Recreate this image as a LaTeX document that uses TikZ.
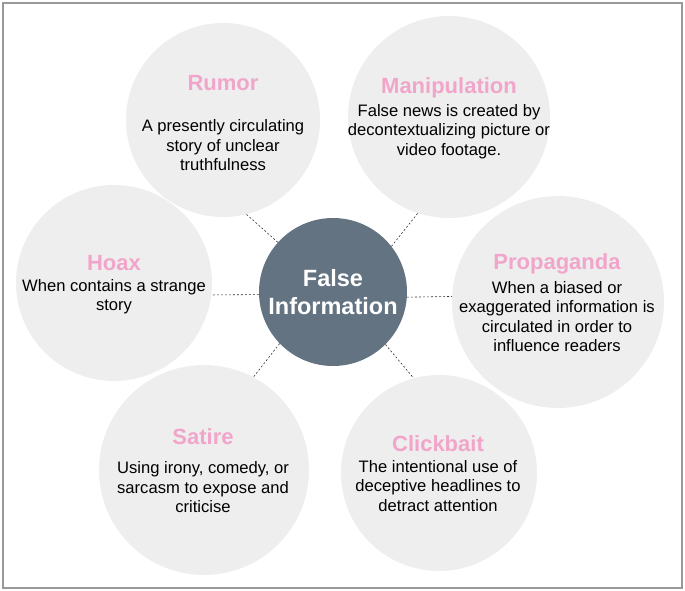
\documentclass[tikz,border=0pt]{standalone}
\usepackage{fontspec}
\setmainfont{Liberation Sans}
\definecolor{bubble}{HTML}{EEEEEE}
\definecolor{slate}{HTML}{637381}
\definecolor{rose}{HTML}{F2A5CA}

\begin{document}
\begin{tikzpicture}[x=1pt, y=-1pt]
        \tikzset{bubbles/.style={circle, fill=bubble, inner sep=0pt},
                 heads/.style={text=rose, font=\bfseries\fontsize{22}{24}\selectfont},
                 notes/.style={align=center, font=\fontsize{16.6}{19.5}\selectfont},
                 links/.style={draw=black!80, dash pattern=on 2pt off 2pt, line width=0.6pt}}
        \useasboundingbox (0,0) rectangle (685,591);
        \draw [black!40, line width=1.2pt] (3,3) rectangle (682,588);
        % outer circles
        \node [bubbles, minimum size=194pt] (rumor) at (223,120){};
        \node [bubbles, minimum size=202pt] (manip) at (449,117){};
        \node [bubbles, minimum size=196pt] (hoax)  at (114,283){};
        \node [bubbles, minimum size=212pt] (prop)  at (558,302){};
        \node [bubbles, minimum size=210pt] (satire) at (204,470){};
        \node [bubbles, minimum size=196pt] (click) at (439,473){};
        \node [circle, fill=slate, inner sep=0pt, minimum size=148pt] (false) at (333,292){};
        % texts
        \node [text=white, align=center, font=\bfseries\fontsize{23.5}{28}\selectfont] (falsetxt) at (333,292){False\\Information};
        \node [heads] (rumorhead) at (223,83){Rumor};
        \node [notes] (rumortxt)  at (223,145.5){A presently circulating\\story of unclear\\truthfulness};
        \node [heads] (maniphead) at (449,88){Manipulation};
        \node [notes] (maniptxt)  at (449,131.5){False news is created by\\decontextualizing picture or\\video footage.};
        \node [heads] (hoaxhead) at (114,263){Hoax};
        \node [notes] (hoaxtxt)  at (114,296.5){When contains a strange\\story};
        \node [heads] (prophead) at (557,264){Propaganda};
        \node [notes] (proptxt)  at (557,316.5){When a biased or\\exaggerated information is\\circulated in order to\\influence readers};
        \node [heads] (satirehead) at (203,437){Satire};
        \node [notes] (satiretxt)  at (203,487.5){Using irony, comedy, or\\sarcasm to expose and\\criticise};
        \node [heads] (clickhead) at (438,444){Clickbait};
        \node [notes] (clicktxt)  at (438,486){The intentional use of\\deceptive headlines to\\detract attention};
        % links
        \draw [links] (false.138) -- (rumor.284);
        \draw [links] (false.38)  -- (manip.252);
        \draw [links] (false.182) -- (hoax.-7);
        \draw [links] (false.-4)  -- (prop.177);
        \draw [links] (false.224) -- (satire.62);
        \draw [links] (false.-45) -- (click.105);
    \end{tikzpicture}
\end{document}
